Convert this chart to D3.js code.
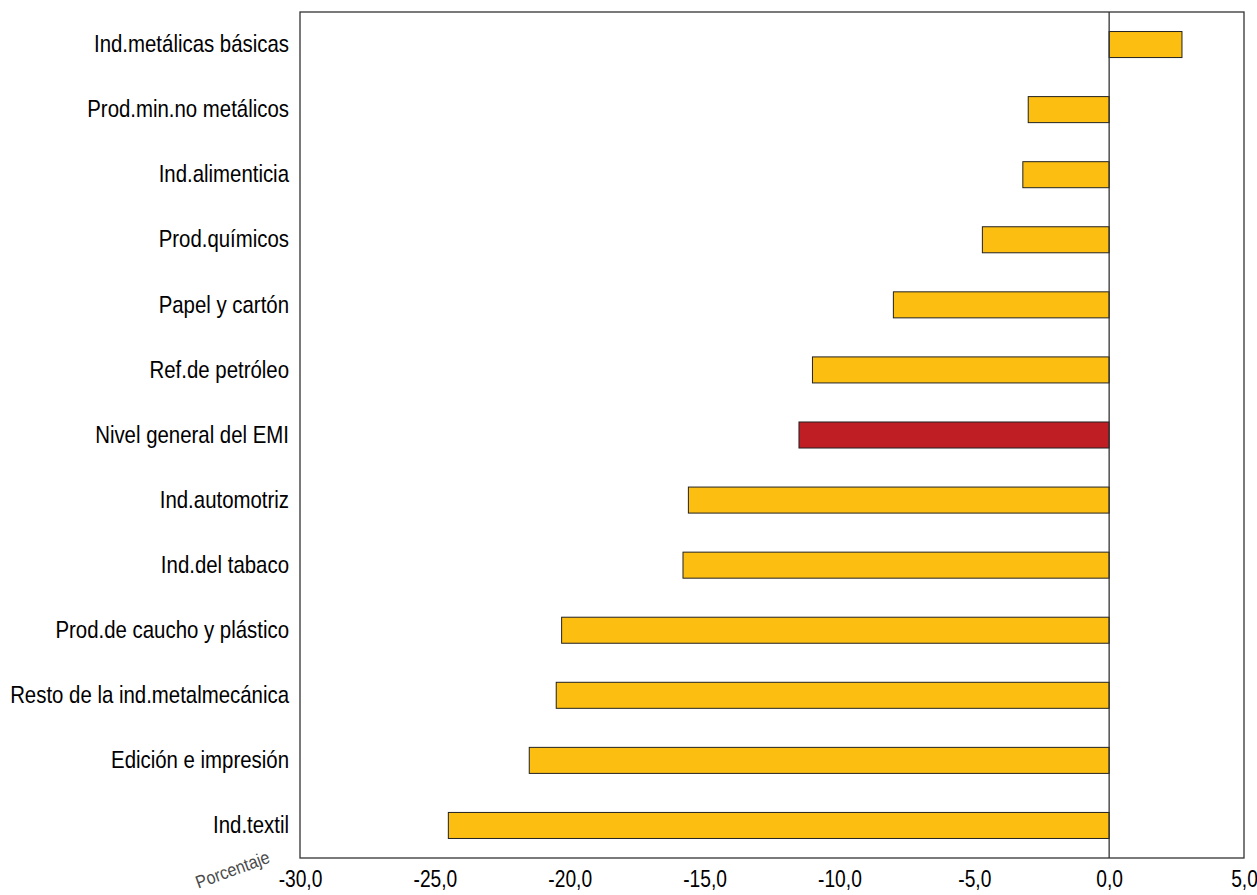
<!DOCTYPE html>
<html><head><meta charset="utf-8">
<script src="https://cdn.jsdelivr.net/npm/d3@7/dist/d3.min.js"></script>
<style>body{margin:0;background:#fff}</style>
</head><body>
<svg id="c" width="1257" height="895"></svg>
<script>
const categories = ["Ind.metálicas básicas","Prod.min.no metálicos","Ind.alimenticia","Prod.químicos","Papel y cartón","Ref.de petróleo","Nivel general del EMI","Ind.automotriz","Ind.del tabaco","Prod.de caucho y plástico","Resto de la ind.metalmecánica","Edición e impresión","Ind.textil"];
const values = [2.7,-3.0,-3.2,-4.7,-8.0,-11.0,-11.5,-15.6,-15.8,-20.3,-20.5,-21.5,-24.5];
const tickValues = [-30,-25,-20,-15,-10,-5,0,5];
const highlight = "Nivel general del EMI";
const axisTitle = "Porcentaje";

const svg = d3.select("#c");
const font = "'Liberation Sans',Arial,sans-serif";
const SX = 0.85;
const L=300,R=1244,T=12,B=858;
const x = d3.scaleLinear().domain([-30,5]).range([L,R]);
const y = d3.scaleBand().domain(categories).range([T,B]).paddingInner(0.6).paddingOuter(0.3);
const data = categories.map((c,i)=>({c,v:values[i]}));

svg.selectAll("rect.bar").data(data).join("rect").attr("class","bar")
  .attr("x",d=>x(Math.min(0,d.v))).attr("width",d=>Math.abs(x(d.v)-x(0)))
  .attr("y",d=>y(d.c)).attr("height",y.bandwidth())
  .attr("fill",d=>d.c===highlight?"#BE1E24":"#FDBE12")
  .attr("stroke","#222").attr("stroke-width",1);

// frame
svg.append("rect").attr("x",L).attr("y",T).attr("width",R-L).attr("height",B-T)
  .attr("fill","none").attr("stroke","#333").attr("stroke-width",1.3);
svg.append("line").attr("x1",x(0)).attr("x2",x(0)).attr("y1",T).attr("y2",B)
  .attr("stroke","#333").attr("stroke-width",1.3);

// category labels
const yAxis = d3.axisLeft(y).tickSize(0).tickPadding(0);
const ga = svg.append("g").attr("transform",`translate(${L},0)`).call(yAxis);
ga.select(".domain").remove();
ga.selectAll("text").attr("x",null).attr("transform",`translate(-11,0) scale(${SX},1)`)
  .attr("font-family",font).attr("font-size",24).attr("fill","#000");

// x axis
const fmt = v => v.toFixed(1).replace(".",",");
const xAxis = d3.axisBottom(x).tickValues(tickValues).tickFormat(fmt).tickSize(0).tickPadding(0);
const gx = svg.append("g").attr("transform",`translate(0,${B})`).call(xAxis);
gx.select(".domain").remove();
gx.selectAll("text").attr("y",null).attr("dy",null).attr("dominant-baseline","middle")
  .attr("transform",`translate(0,23) scale(0.8,1)`)
  .attr("font-family",font).attr("font-size",24).attr("fill","#000");

svg.append("text").attr("transform","translate(233,871) rotate(-20) scale(0.9,1)")
  .attr("text-anchor","middle").attr("dominant-baseline","middle")
  .attr("font-family",font).attr("font-size",18).attr("fill","#4a4a4a")
  .text(axisTitle);
</script>
</body></html>
